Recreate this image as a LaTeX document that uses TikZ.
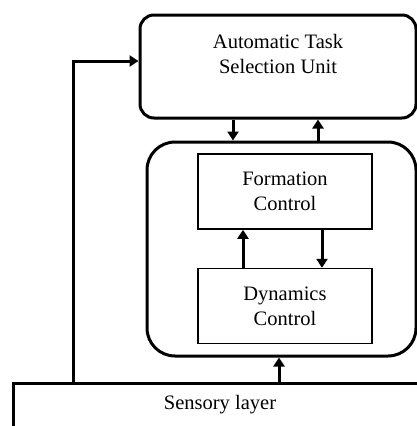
\documentclass[tikz,border=0pt]{standalone}
\usepackage{fontspec}
\setmainfont{Liberation Serif}
\usetikzlibrary{positioning,arrows.meta}

\begin{document}
\begin{tikzpicture}[x=1pt, y=-1pt, node distance = 38pt,
    font=\fontsize{20.5}{25}\selectfont,
    unit/.style = {draw, line width=3pt, rounded corners=14pt, align=center},
    block/.style = {draw, line width=1.6pt, minimum width=174pt, minimum height=75pt, align=center, inner sep=0pt},
    flow/.style = {line width=3pt, -{Triangle[length=9pt,width=11pt]}}]
    \useasboundingbox (0,0) rectangle (417,426);
    \clip (0,0) rectangle (417,426);

    \node[unit, minimum width=276pt, minimum height=103pt] (task) at (278,66.5) {Automatic Task\\Selection Unit\\~};
    \node[unit, rounded corners=28pt, minimum width=269pt, minimum height=214pt] (ctrl) at (281.5,249) {};
    \node[block] (form) at (285,191.5) {Formation\\Control};
    \node[block, below = of form] (dyn) {Dynamics\\Control};
    \node[draw, line width=3pt, minimum width=414pt, minimum height=44pt] (sense) at (220,405) {Sensory layer};

    % feedback from the sensors to the task unit
    \coordinate (fb) at (73,61);
    \draw[flow] (sense.north -| fb) -- (fb) -- (fb -| task.west);

    \draw[flow] ([xshift=-45pt]task.south) -- ([xshift=-45pt]task.south |- ctrl.north);
    \draw[flow] ([xshift=40pt]task.south |- ctrl.north) -- ([xshift=40pt]task.south);
    \draw[flow] ([xshift=-42pt]dyn.north) -- ([xshift=-42pt]dyn.north |- form.south);
    \draw[flow] ([xshift=37pt]form.south) -- ([xshift=37pt]form.south |- dyn.north);
    \draw[flow] ([xshift=59pt]sense.north) -- ([xshift=59pt]sense.north |- ctrl.south);
\end{tikzpicture}
\end{document}
